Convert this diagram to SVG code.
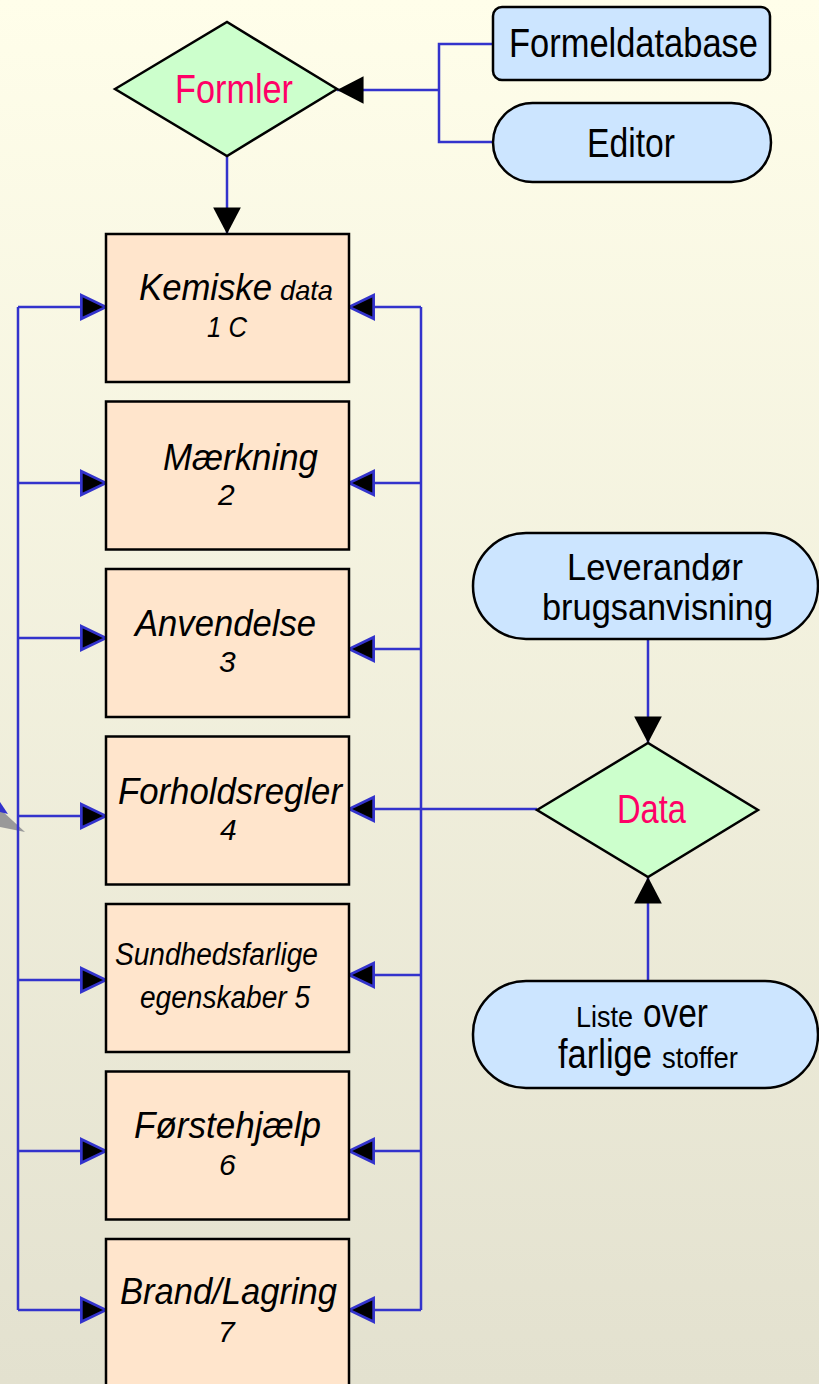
<svg xmlns="http://www.w3.org/2000/svg" width="819" height="1384" viewBox="0 0 819 1384">
<defs>
<linearGradient id="bg" x1="0" y1="0" x2="0" y2="1">
<stop offset="0" stop-color="#fffeea"/>
<stop offset="1" stop-color="#e3e1cf"/>
</linearGradient>
<marker id="ab" markerUnits="userSpaceOnUse" markerWidth="30" markerHeight="30" viewBox="-2 -2 28 26" refX="23" refY="11" orient="auto">
<path d="M0,0 L23,11 L0,22 Z" fill="#000" stroke="#3333cc" stroke-width="2.5" stroke-linejoin="miter"/>
</marker>
<marker id="ak" markerUnits="userSpaceOnUse" markerWidth="30" markerHeight="30" viewBox="0 0 24 26" refX="23" refY="12" orient="auto">
<path d="M0,0 L23,12 L0,24 Z" fill="#000"/>
</marker>
</defs>
<style>
.proc{fill:#ffe5cc;stroke:#000;stroke-width:2.5}
.dec{fill:#ccffcc;stroke:#000;stroke-width:2.5}
.term{fill:#cce5ff;stroke:#000;stroke-width:2.5}
.c{fill:none;stroke:#3333cc;stroke-width:2.5}
.cb{fill:none;stroke:#3333cc;stroke-width:2.5;marker-end:url(#ab)}
.ck{fill:none;stroke:#3333cc;stroke-width:2.5;marker-end:url(#ak)}
text{font-family:"Liberation Sans",Arial,sans-serif;fill:#000}
.it{font-style:italic}
.pink{fill:#ff0066}
</style>
<rect x="0" y="0" width="819" height="1384" fill="url(#bg)"/>
<g id="fragment">
<polygon points="0,809 25,832 0,827" fill="#999"/>
<polygon points="0,802 8,814 0,812" fill="#3333cc"/>
</g>
<g id="connectors">
<polyline class="c" points="493,44 439,44 439,142 493,142"/>
<line class="ck" x1="439" y1="90" x2="337" y2="90"/>
<line class="ck" x1="227" y1="156" x2="227" y2="234"/>
<line class="c" x1="18" y1="307" x2="18" y2="1310"/>
<line class="c" x1="421" y1="307" x2="421" y2="1310"/>
<line class="cb" x1="18" y1="307" x2="106" y2="307"/>
<line class="cb" x1="18" y1="483" x2="106" y2="483"/>
<line class="cb" x1="18" y1="638" x2="106" y2="638"/>
<line class="cb" x1="18" y1="816" x2="106" y2="816"/>
<line class="cb" x1="18" y1="980" x2="106" y2="980"/>
<line class="cb" x1="18" y1="1151" x2="106" y2="1151"/>
<line class="cb" x1="18" y1="1310" x2="106" y2="1310"/>
<line class="cb" x1="421" y1="307" x2="349" y2="307"/>
<line class="cb" x1="421" y1="483" x2="349" y2="483"/>
<line class="cb" x1="421" y1="649" x2="349" y2="649"/>
<line class="cb" x1="537" y1="809" x2="349" y2="809"/>
<line class="cb" x1="421" y1="975" x2="349" y2="975"/>
<line class="cb" x1="421" y1="1151" x2="349" y2="1151"/>
<line class="cb" x1="421" y1="1310" x2="349" y2="1310"/>
<line class="ck" x1="648" y1="639" x2="648" y2="743"/>
<line class="ck" x1="648" y1="981" x2="648" y2="877"/>
</g>
<g id="formler">
<polygon class="dec" points="115,89 227,22 337,89 227,156"/>
<text class="pink" x="175" y="103" font-size="40" textLength="118" lengthAdjust="spacingAndGlyphs">Formler</text>
</g>
<g id="formeldatabase">
<rect class="term" x="493" y="7" width="277" height="73" rx="9"/>
<text x="509" y="57" font-size="40" textLength="249" lengthAdjust="spacingAndGlyphs">Formeldatabase</text>
</g>
<g id="editor">
<rect class="term" x="493" y="103" width="278" height="79" rx="39.5"/>
<text x="587" y="157" font-size="40" textLength="88" lengthAdjust="spacingAndGlyphs">Editor</text>
</g>
<g id="box1">
<rect class="proc" x="106" y="234" width="243" height="148"/>
<text class="it" x="139" y="300" font-size="37" textLength="133" lengthAdjust="spacingAndGlyphs">Kemiske</text>
<text class="it" x="280" y="300" font-size="28" textLength="53" lengthAdjust="spacingAndGlyphs">data</text>
<text class="it" x="207" y="337" font-size="30" textLength="40" lengthAdjust="spacingAndGlyphs">1 C</text>
</g>
<g id="box2">
<rect class="proc" x="106" y="401.5" width="243" height="148"/>
<text class="it" x="163" y="470" font-size="37" textLength="155" lengthAdjust="spacingAndGlyphs">Mærkning</text>
<text class="it" x="218" y="505" font-size="30">2</text>
</g>
<g id="box3">
<rect class="proc" x="106" y="569" width="243" height="148"/>
<text class="it" x="135" y="636" font-size="37" textLength="181" lengthAdjust="spacingAndGlyphs">Anvendelse</text>
<text class="it" x="219" y="672" font-size="30">3</text>
</g>
<g id="box4">
<rect class="proc" x="106" y="736.5" width="243" height="148"/>
<text class="it" x="118" y="804" font-size="37" textLength="224" lengthAdjust="spacingAndGlyphs">Forholdsregler</text>
<text class="it" x="220" y="840" font-size="30">4</text>
</g>
<g id="box5">
<rect class="proc" x="106" y="904" width="243" height="148"/>
<text class="it" x="115" y="965" font-size="31" textLength="203" lengthAdjust="spacingAndGlyphs">Sundhedsfarlige</text>
<text class="it" x="140" y="1008" font-size="31" textLength="170" lengthAdjust="spacingAndGlyphs">egenskaber 5</text>
</g>
<g id="box6">
<rect class="proc" x="106" y="1071.5" width="243" height="148"/>
<text class="it" x="134" y="1138" font-size="37" textLength="187" lengthAdjust="spacingAndGlyphs">Førstehjælp</text>
<text class="it" x="219" y="1175" font-size="30">6</text>
</g>
<g id="box7">
<rect class="proc" x="106" y="1239" width="243" height="160"/>
<text class="it" x="120" y="1304" font-size="37" textLength="217" lengthAdjust="spacingAndGlyphs">Brand/Lagring</text>
<text class="it" x="218" y="1342" font-size="30">7</text>
</g>
<g id="leverandor">
<rect class="term" x="473" y="533" width="345" height="106" rx="53"/>
<text x="567" y="580" font-size="37" textLength="176" lengthAdjust="spacingAndGlyphs">Leverandør</text>
<text x="542" y="620" font-size="37" textLength="231" lengthAdjust="spacingAndGlyphs">brugsanvisning</text>
</g>
<g id="data">
<polygon class="dec" points="537,810 648,743 758,810 648,877"/>
<text class="pink" x="617" y="823" font-size="40" textLength="69" lengthAdjust="spacingAndGlyphs">Data</text>
</g>
<g id="liste">
<rect class="term" x="473" y="981" width="345" height="107" rx="53"/>
<text x="576" y="1027" font-size="29" textLength="57" lengthAdjust="spacingAndGlyphs">Liste</text>
<text x="643" y="1027" font-size="40" textLength="65" lengthAdjust="spacingAndGlyphs">over</text>
<text x="558" y="1068" font-size="40" textLength="94" lengthAdjust="spacingAndGlyphs">farlige</text>
<text x="662" y="1068" font-size="29" textLength="76" lengthAdjust="spacingAndGlyphs">stoffer</text>
</g>
</svg>
